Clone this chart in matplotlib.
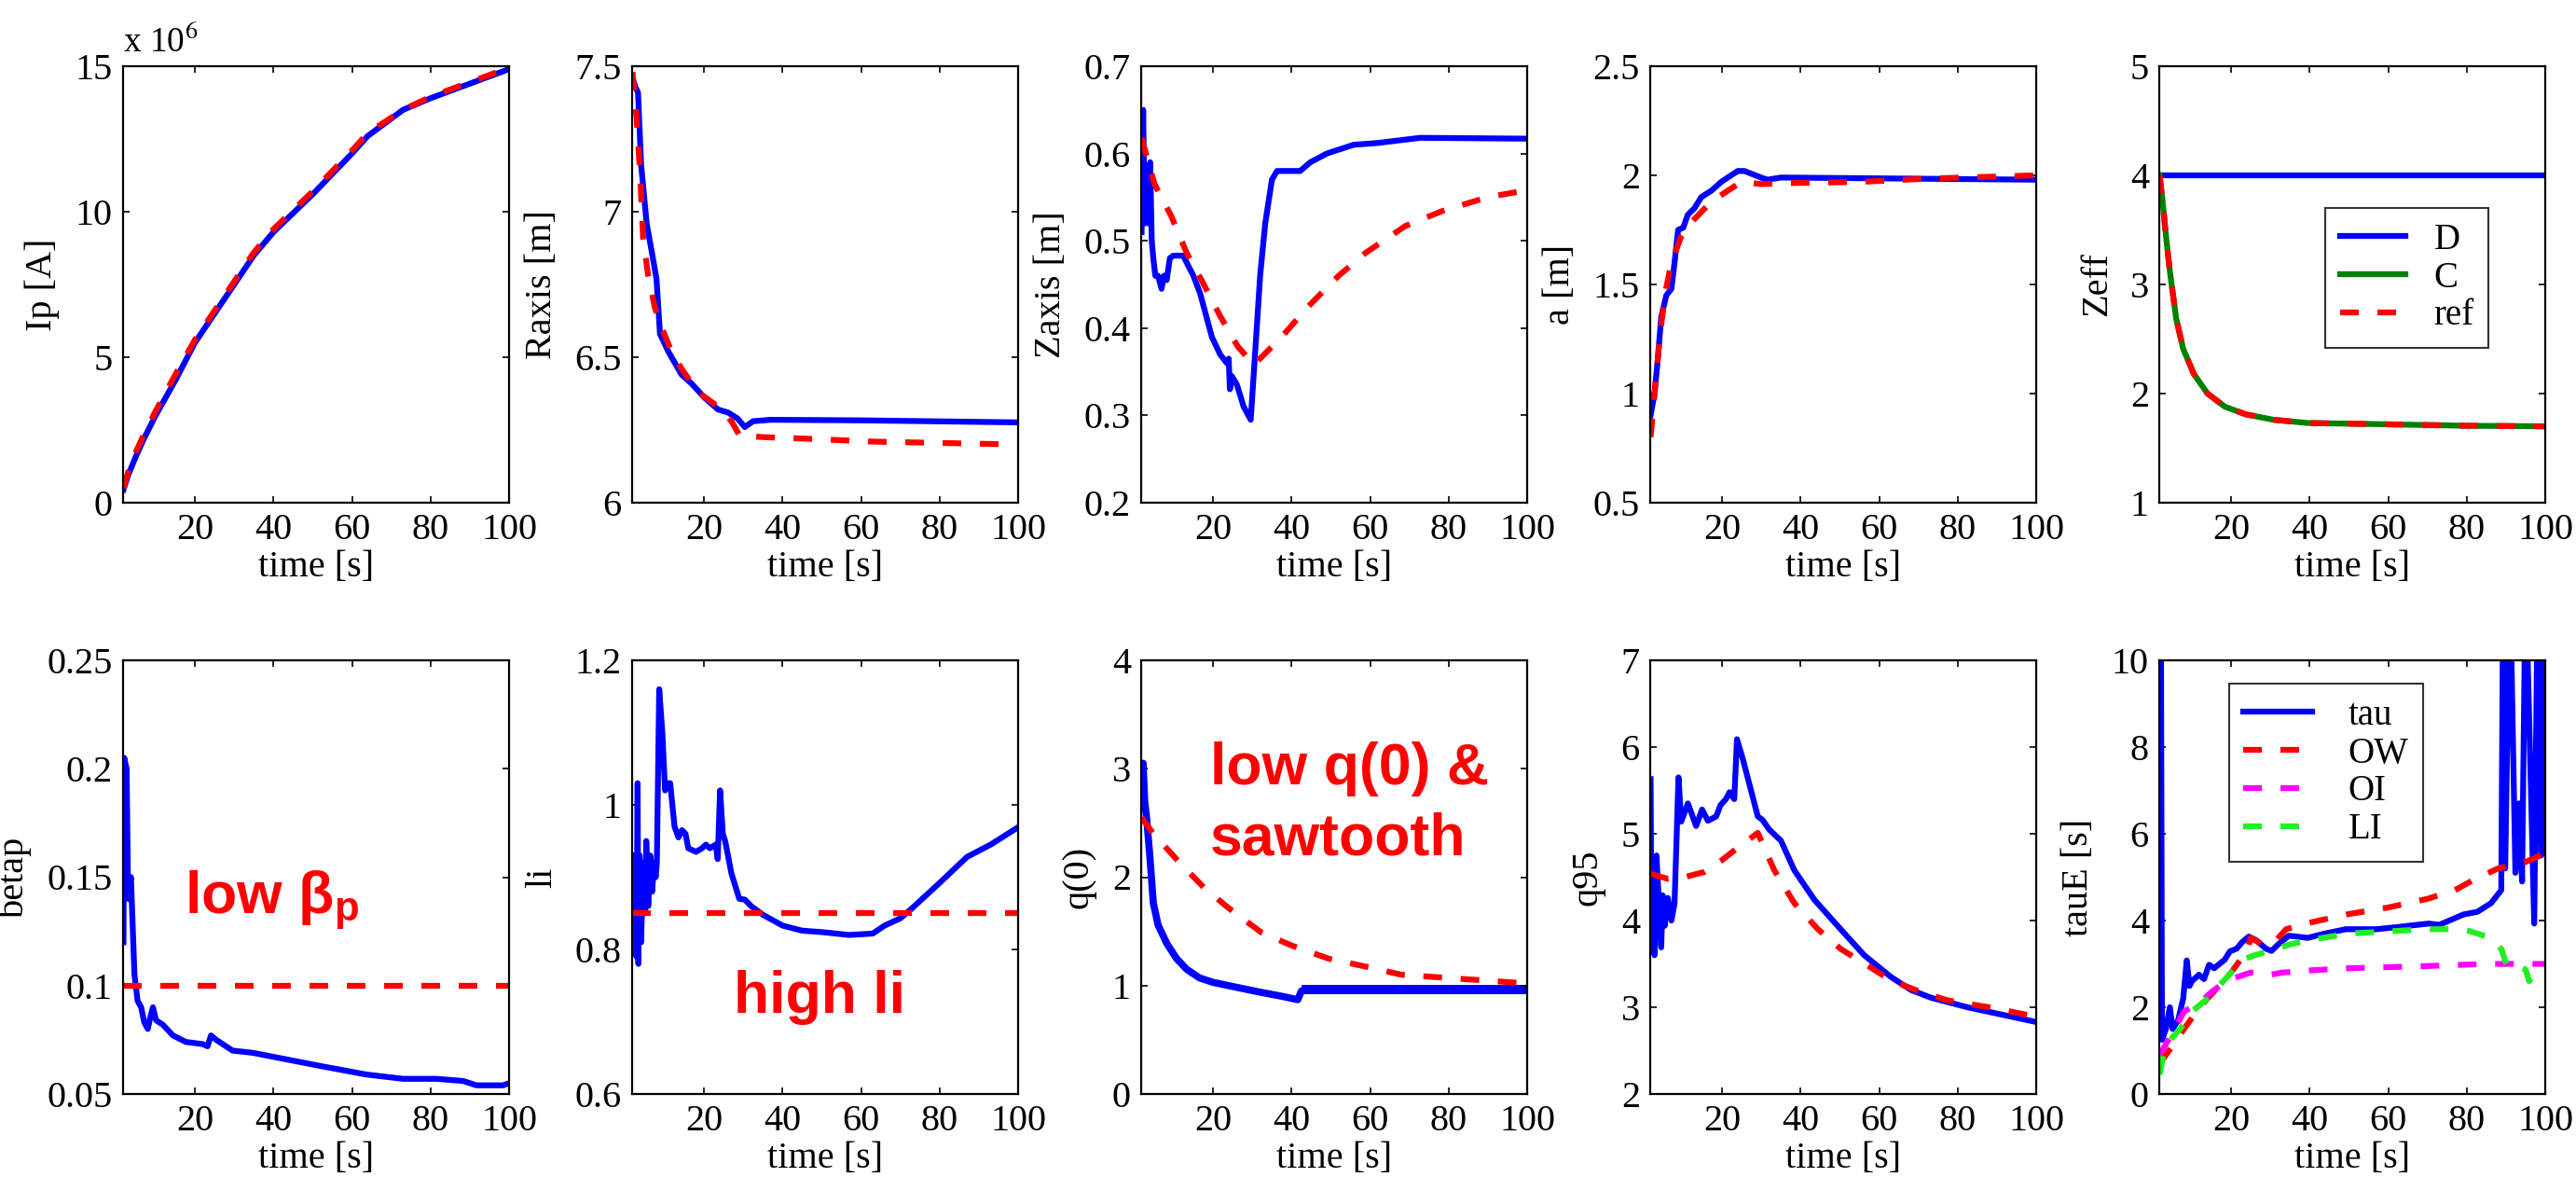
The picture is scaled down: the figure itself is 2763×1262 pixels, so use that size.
import numpy as np
import matplotlib
matplotlib.use('Agg')
import matplotlib.pyplot as plt
from matplotlib.ticker import FormatStrFormatter

plt.rcParams['font.family'] = 'Liberation Serif'
plt.rcParams['mathtext.fontset'] = 'stix'

###################################################################
#                          Data
###################################################################
# Ip [MA]
t_ip = [1.8, 3, 5, 7, 10, 15, 20, 25, 30, 35, 40, 50, 60, 64, 73, 80, 90, 100]
ip_d = [0.45, 0.95, 1.6, 2.2, 3.0, 4.2, 5.5, 6.5, 7.5, 8.5, 9.3, 10.6, 12.0, 12.6, 13.5, 13.9, 14.4, 14.9]
ip_ref = [0.5, 1.05, 1.75, 2.35, 3.15, 4.4, 5.6, 6.6, 7.6, 8.6, 9.4, 10.7, 12.1, 12.7, 13.5, 13.95, 14.45, 14.95]

# Raxis
t_rax_d = [1.8, 2.5, 3.2, 4.0, 5.4, 6.6, 7.9, 8.8, 10.9, 14.3, 16.8, 20.2, 23.6, 26.1, 28.5, 30.4, 32.5, 37, 60, 100]
rax_d = [7.46, 7.43, 7.41, 7.16, 6.96, 6.87, 6.77, 6.58, 6.52, 6.44, 6.41, 6.36, 6.32, 6.31, 6.29, 6.26, 6.28, 6.285, 6.283, 6.276]
t_rax_ref = [1.8, 2.8, 3.7, 4.5, 5.8, 7.5, 9.6, 11.7, 14.3, 18.5, 23.6, 27, 29.1, 35.7, 45.9, 62.8, 100]
rax_ref = [7.48, 7.33, 7.14, 6.91, 6.78, 6.67, 6.59, 6.52, 6.46, 6.38, 6.33, 6.28, 6.23, 6.225, 6.22, 6.21, 6.20]

# Zaxis
t_zax_d = [1.8, 2.2, 2.6, 3.1, 3.5, 4.0, 4.4, 4.8, 5.3, 6.0, 6.9, 7.5, 8.2, 9.0, 9.9, 12.4, 15.0, 16.7,
           19.7, 21.8, 23.5, 24.0, 24.3, 24.8, 26.1, 27.8, 29.6, 30.7, 32.0, 33.3, 35.0, 36.3, 42.2,
           44.8, 49.0, 55.8, 61.8, 72.8, 100]
zax_d = [0.51, 0.65, 0.52, 0.58, 0.52, 0.59, 0.50, 0.48, 0.46, 0.46, 0.445, 0.46, 0.455, 0.48, 0.483,
         0.483, 0.46, 0.44, 0.39, 0.37, 0.36, 0.365, 0.33, 0.345, 0.335, 0.31, 0.295, 0.37, 0.46, 0.52,
         0.57, 0.58, 0.58, 0.59, 0.60, 0.61, 0.612, 0.618, 0.617]
t_zax_ref = [1.8, 5.1, 9.4, 13.3, 17.3, 21.8, 26.3, 30.4, 37.5, 44.3, 52, 58.8, 69, 78.3, 90, 100]
zax_ref = [0.618, 0.565, 0.528, 0.486, 0.453, 0.414, 0.379, 0.358, 0.39, 0.425, 0.46, 0.486, 0.517, 0.534, 0.55, 0.558]

# minor radius a
t_a_d = [1.8, 2.8, 3.6, 4.5, 5.8, 7.1, 7.9, 8.8, 10.1, 11.3, 13, 14.7, 17.3, 19.8, 22.3, 24, 25.7, 29.9, 31.6, 35, 100]
a_d = [0.9, 1.0, 1.15, 1.35, 1.45, 1.48, 1.6, 1.75, 1.76, 1.82, 1.85, 1.9, 1.93, 1.97, 2.0, 2.02, 2.02, 1.99, 1.98, 1.99, 1.98]
t_a_ref = [1.8, 2.8, 4.1, 5.4, 7.1, 9.6, 13, 17.3, 21.5, 24.9, 29.9, 38.5, 55.4, 72.4, 100]
a_ref = [0.8, 1.0, 1.25, 1.45, 1.6, 1.72, 1.8, 1.88, 1.93, 1.97, 1.96, 1.965, 1.97, 1.985, 2.0]

# Zeff
t_zeff = [1.8, 2.5, 3.4, 4.3, 6.0, 7.8, 10.5, 14, 18.4, 23.7, 30.8, 39.6, 57.4, 80, 100]
zeff_dd = [4.0] * len(t_zeff)
zeff_c = [4.0, 3.78, 3.45, 3.15, 2.69, 2.41, 2.18, 2.0, 1.88, 1.81, 1.76, 1.73, 1.72, 1.705, 1.70]
zeff_ref = [4.0, 3.78, 3.45, 3.15, 2.69, 2.41, 2.18, 2.0, 1.88, 1.81, 1.76, 1.73, 1.72, 1.705, 1.70]

# betap
t_bp = [1.8, 2.0, 2.6, 3.0, 3.7, 4.6, 5.4, 6.3, 7.1, 8.0, 8.6, 9.3, 10.1, 11.8, 14.4, 17.7, 22.0, 23.2,
        24.1, 25.4, 29.6, 34.7, 43.2, 51.7, 63.6, 73.0, 81.5, 88.3, 91.7, 98.5, 100]
bp_d = [0.12, 0.205, 0.20, 0.14, 0.15, 0.105, 0.093, 0.09, 0.083, 0.08, 0.085, 0.09, 0.084, 0.082, 0.077,
        0.074, 0.073, 0.072, 0.077, 0.075, 0.07, 0.069, 0.066, 0.063, 0.059, 0.057, 0.057, 0.056, 0.054,
        0.054, 0.055]
bp_ref = 0.1

# li
t_li = [1.8, 2.2, 2.5, 2.8, 3.1, 3.3, 3.6, 4.0, 4.5, 5.0, 5.3, 5.8, 6.3, 6.8, 7.3, 7.7, 8.0, 8.6, 9.4,
        10.1, 10.6, 11.4, 12.5, 13.5, 14.4, 15.3, 16.0, 18.0, 19.5, 20.5, 21.5, 23.0, 23.5, 24.1, 24.8,
        25.4, 27, 29, 30.4, 32, 35, 40, 45, 50, 57, 63, 66, 70, 73, 80, 87, 93, 100]
li_d = [0.93, 0.80, 0.93, 0.79, 1.03, 0.78, 0.93, 0.81, 0.92, 0.85, 0.95, 0.86, 0.93, 0.88, 0.92, 0.90,
        0.92, 1.16, 1.10, 1.02, 1.03, 1.03, 0.97, 0.955, 0.965, 0.96, 0.94, 0.935, 0.94, 0.945, 0.94,
        0.945, 0.925, 1.02, 0.96, 0.95, 0.905, 0.87, 0.869, 0.86, 0.848, 0.833, 0.826, 0.824, 0.82,
        0.822, 0.833, 0.843, 0.857, 0.892, 0.928, 0.945, 0.969]
li_ref = 0.85

# q(0)
t_q0_d = [1.8, 2.2, 2.6, 3.1, 3.9, 4.8, 6.0, 8.2, 10.7, 13.3, 16.6, 20, 25.2, 31.9, 37, 41.6, 42.5, 44.6, 100]
q0_d = [3.05, 3.05, 2.7, 2.54, 2.2, 1.76, 1.56, 1.39, 1.25, 1.15, 1.07, 1.03, 0.99, 0.94, 0.905, 0.87, 0.95, 0.96, 0.96]
t_q0_saw = [42.5, 100]
q0_saw_lo = [0.92, 0.92]
q0_saw_hi = [1.01, 1.01]
t_q0_ref = [1.8, 4.8, 11.6, 17.8, 23.8, 32.3, 40, 49.3, 59.5, 68, 80, 92, 100]
q0_ref = [2.55, 2.4, 2.13, 1.9, 1.72, 1.49, 1.37, 1.25, 1.17, 1.1, 1.07, 1.04, 1.02]

# q95
t_q95_d = [1.8, 2.0, 2.4, 2.8, 3.3, 4.5, 4.9, 5.4, 6.2, 7.1, 7.9, 8.9, 9.6, 11.3, 13.4, 14.9, 16.4, 18.5,
           19.6, 21, 21.9, 23.1, 23.8, 25.3, 29.1, 30.3, 32, 35, 38.4, 43.5, 49.4, 56.2, 63, 68.1, 73.2,
           82.5, 100]
q95_d = [5.63, 3.99, 4.5, 3.6, 4.75, 3.69, 4.29, 3.94, 4.26, 4.0, 4.2, 5.65, 5.14, 5.35, 5.09, 5.28, 5.15,
         5.2, 5.33, 5.4, 5.48, 5.4, 6.09, 5.86, 5.2, 5.16, 5.05, 4.92, 4.58, 4.24, 3.94, 3.6, 3.35, 3.2,
         3.11, 3.0, 2.83]
t_q95_ref = [1.8, 6.2, 10.4, 15.5, 19.8, 24, 29.1, 33.3, 38.4, 44.4, 50.3, 57.1, 63, 69.8, 77.4, 89.3, 100]
q95_ref = [4.54, 4.48, 4.5, 4.56, 4.69, 4.84, 5.01, 4.58, 4.2, 3.9, 3.67, 3.48, 3.31, 3.19, 3.08, 2.99, 2.89]

# tauE
t_tau = [1.8, 2.1, 2.4, 3.4, 4.4, 5.1, 6.5, 7.8, 8.7, 9.4, 10, 11.8, 13.1, 14.4, 15.7, 18.4, 19.7, 21.4,
         22.8, 24.5, 26.3, 28.9, 30.3, 32, 34.7, 39.5, 43.9, 49.2, 57.1, 62.4, 70.3, 73, 79.2, 82.7, 86.2,
         88.8, 89.3, 89.8, 91.0, 92.4, 93.3, 94.1, 95.0, 97.2, 98.1, 99.0, 99.4, 100]
tau = [12, 12, 1.25, 1.5, 2.0, 1.5, 1.7, 2.2, 3.08, 2.49, 2.6, 2.75, 2.65, 2.98, 2.9, 3.1, 3.29, 3.35,
       3.5, 3.63, 3.55, 3.35, 3.3, 3.45, 3.65, 3.6, 3.7, 3.8, 3.8, 3.85, 3.93, 3.9, 4.14, 4.2, 4.4,
       4.7, 12, 5.2, 12, 5.1, 6.7, 4.9, 12, 3.93, 12, 5.5, 12, 12]
t_ow = [1.8, 5, 8, 12, 16, 20, 24, 25, 28, 31, 34, 40, 50, 60, 70, 77, 82, 88, 95, 100]
tau_ow = [0.7, 1.1, 1.5, 2.0, 2.4, 2.8, 3.3, 3.6, 3.45, 3.5, 3.8, 3.95, 4.15, 4.3, 4.5, 4.7, 4.95, 5.2, 5.35, 5.55]
t_oi = [1.8, 5, 8, 12, 15, 18, 20, 25, 30, 33, 40, 50, 70, 85, 100]
tau_oi = [0.9, 1.4, 1.9, 2.1, 2.35, 2.55, 2.65, 2.8, 2.75, 2.8, 2.85, 2.9, 2.95, 3.0, 3.0]
t_li_s = [1.8, 3, 5, 7, 10, 14, 18, 20, 23, 26, 30, 35, 40, 50, 60, 70, 78, 80.6, 86.2, 88.9, 90.2,
          92.4, 95, 95.9, 97.7, 100]
tau_li = [0.45, 1.0, 1.3, 1.5, 1.9, 2.2, 2.6, 2.8, 3.1, 3.2, 3.3, 3.45, 3.55, 3.7, 3.75, 3.8, 3.8, 3.76,
          3.6, 3.33, 2.95, 2.95, 2.87, 2.6, 2.85, 2.83]

###################################################################
#                          Style
###################################################################
BLUE = '#0000ff'
RED = '#ff0000'
DGREEN = '#008000'
LGREEN = '#22ee22'
MAG = '#ff00ff'
LW = 4.5
DASH = (3.2, 3.2)
FS = 29
AFS = 45
XLIM = (1.7, 100)

fig = plt.figure(figsize=(27.63, 12.62), dpi=100)

left0 = 132 / 2763
step = 546 / 2763
w = 414 / 2763
rows = [(1 - 539 / 1262, 468 / 1262), (1 - 1173 / 1262, 465 / 1262)]


def make_ax(row, col, ylim, yticks, ylabel):
    b, h = rows[row]
    ax = fig.add_axes([left0 + col * step, b, w, h])
    ax.set_xlim(*XLIM)
    ax.set_ylim(*ylim)
    ax.set_xticks([20, 40, 60, 80, 100])
    ax.set_yticks(yticks)
    ax.yaxis.set_major_formatter(FormatStrFormatter('%g'))
    ax.tick_params(direction='in', top=True, right=True, length=5, width=1.2,
                   labelsize=FS, pad=8)
    for s in ax.spines.values():
        s.set_linewidth(1.6)
    ax.set_xlabel('time [s]', fontsize=FS, labelpad=2)
    ax.set_ylabel(ylabel, fontsize=FS, labelpad=12)
    return ax


def ref_line(ax, t, y, color=RED):
    ax.plot(t, y, color=color, lw=LW, dashes=DASH)


def note(ax, x, y, s):
    ax.text(x, y, s, color=RED, fontsize=AFS, fontweight='bold',
            family='Liberation Sans', ha='left', va='baseline')


# ---------------- top row ----------------
ax = make_ax(0, 0, (0, 15), [0, 5, 10, 15], 'Ip [A]')
ax.plot(t_ip, ip_d, color=BLUE, lw=LW)
ref_line(ax, t_ip, ip_ref)
ax.text(0.0, 1.015, r'x 10$^{6}$', transform=ax.transAxes, fontsize=FS - 2,
        ha='left', va='bottom')

ax = make_ax(0, 1, (6, 7.5), [6, 6.5, 7, 7.5], 'Raxis [m]')
ax.plot(t_rax_d, rax_d, color=BLUE, lw=LW)
ref_line(ax, t_rax_ref, rax_ref)

ax = make_ax(0, 2, (0.2, 0.7), [0.2, 0.3, 0.4, 0.5, 0.6, 0.7], 'Zaxis [m]')
ax.plot(t_zax_d, zax_d, color=BLUE, lw=LW)
ref_line(ax, t_zax_ref, zax_ref)

ax = make_ax(0, 3, (0.5, 2.5), [0.5, 1, 1.5, 2, 2.5], 'a [m]')
ax.plot(t_a_d, a_d, color=BLUE, lw=LW)
ref_line(ax, t_a_ref, a_ref)

ax = make_ax(0, 4, (1, 5), [1, 2, 3, 4, 5], 'Zeff')
ax.plot(t_zeff, zeff_dd, color=BLUE, lw=LW, label='D')
ax.plot(t_zeff, zeff_c, color=DGREEN, lw=LW, label='C')
ax.plot(t_zeff, zeff_ref, color=RED, lw=LW, dashes=DASH, label='ref')
leg = ax.legend(loc='upper left', bbox_to_anchor=(0.43, 0.675), fontsize=FS - 1,
                frameon=True, fancybox=False, edgecolor='black', handlelength=1.8,
                borderpad=0.4, labelspacing=0.1, handletextpad=0.8, borderaxespad=0)
leg.get_frame().set_linewidth(1.5)

# ---------------- bottom row ----------------
ax = make_ax(1, 0, (0.05, 0.25), [0.05, 0.1, 0.15, 0.2, 0.25], 'betap')
ax.plot(t_bp, bp_d, color=BLUE, lw=LW)
ax.axhline(bp_ref, color=RED, lw=LW, dashes=DASH)
note(ax, 17.4, 0.133, r'low β$_{\mathregular{p}}$')

ax = make_ax(1, 1, (0.6, 1.2), [0.6, 0.8, 1, 1.2], 'li')
ax.plot(t_li, li_d, color=BLUE, lw=LW)
ax.axhline(li_ref, color=RED, lw=LW, dashes=DASH)
note(ax, 27.5, 0.712, 'high li')

ax = make_ax(1, 2, (0, 4), [0, 1, 2, 3, 4], 'q(0)')
ax.fill_between(t_q0_saw, q0_saw_lo, q0_saw_hi, color=BLUE, lw=0)
ax.plot(t_q0_d, q0_d, color=BLUE, lw=LW + 1)
ref_line(ax, t_q0_ref, q0_ref)
note(ax, 19.3, 2.86, 'low q(0) &')
note(ax, 19.3, 2.21, 'sawtooth')

ax = make_ax(1, 3, (2, 7), [2, 3, 4, 5, 6, 7], 'q95')
ax.plot(t_q95_d, q95_d, color=BLUE, lw=LW)
ref_line(ax, t_q95_ref, q95_ref)

ax = make_ax(1, 4, (0, 10), [0, 2, 4, 6, 8, 10], 'tauE [s]')
ax.plot(t_tau, tau, color=BLUE, lw=LW, label='tau')
ax.plot(t_ow, tau_ow, color=RED, lw=LW, dashes=DASH, label='OW')
ax.plot(t_oi, tau_oi, color=MAG, lw=LW, dashes=DASH, label='OI')
ax.plot(t_li_s, tau_li, color=LGREEN, lw=LW, dashes=DASH, label='LI')
leg = ax.legend(loc='upper left', bbox_to_anchor=(0.18, 0.946), fontsize=FS - 1,
                frameon=True, fancybox=False, edgecolor='black', handlelength=1.9,
                borderpad=0.4, labelspacing=0.1, handletextpad=1.0, borderaxespad=0)
leg.get_frame().set_linewidth(1.5)

fig.savefig('out.png', dpi=100)
